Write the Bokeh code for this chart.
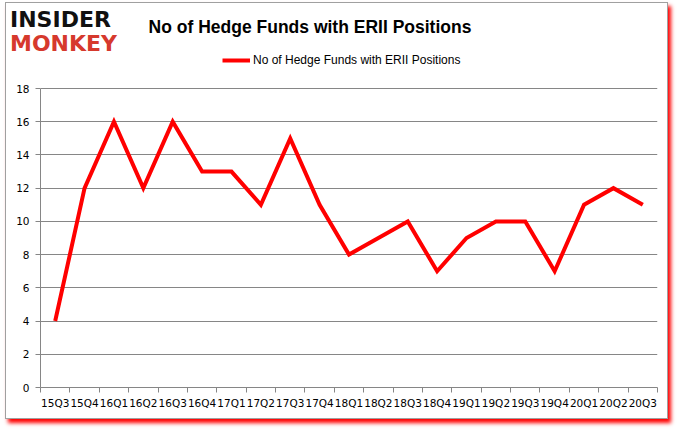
from bokeh.plotting import figure
from bokeh.layouts import column
from bokeh.models import FixedTicker, Legend, LegendItem, Range1d, Div
from bokeh.embed import file_html
from bokeh.resources import INLINE

quarters = ["15Q3", "15Q4", "16Q1", "16Q2", "16Q3", "16Q4", "17Q1", "17Q2",
            "17Q3", "17Q4", "18Q1", "18Q2", "18Q3", "18Q4", "19Q1", "19Q2",
            "19Q3", "19Q4", "20Q1", "20Q2", "20Q3"]
funds = [4, 12, 16, 12, 16, 13, 13, 11, 15, 11, 8, 9, 10, 7, 9, 10, 10, 7, 11, 12, 11]
y_ticks = [0, 2, 4, 6, 8, 10, 12, 14, 16, 18]
y_max = 18
title_text = "No of Hedge Funds with ERII Positions"
logo_top, logo_bottom = "INSIDER", "MONKEY"

W = 661
HH = 50            # header height
CH = 365           # chart figure height
FL, FR, FB = 34, 651, 334   # chart frame edges (pixels in chart figure)
PLOT_H = 299       # pixel height of the 0..18 span

# ---------------- header (logo + title) ----------------
header_html = (
    f'<div style="position:relative;width:{W}px;height:{HH}px;background:white;">'
    f'<div style="position:absolute;left:4px;top:6px;font:bold 22px/22px \'DejaVu Sans\';'
    f'color:#111111;white-space:nowrap;">{logo_top}</div>'
    f'<div style="position:absolute;left:4px;top:30px;font:bold 22px/22px \'DejaVu Sans\';'
    f'color:#d6392d;white-space:nowrap;">{logo_bottom}</div>'
    f'<div style="position:absolute;left:0px;width:608px;top:16px;text-align:center;'
    f'font:bold 17.5px/17.5px \'Liberation Sans\';color:#000000;white-space:nowrap;">'
    f'{title_text}</div>'
    '</div>'
)
hdr = Div(text=header_html, width=W, height=HH, margin=0)

# ---------------- chart ----------------
y_top = y_max * FB / PLOT_H
p = figure(width=W, height=CH, output_backend="svg", toolbar_location=None,
           min_border_left=FL, min_border_top=0,
           min_border_right=W - FR, min_border_bottom=CH - FB,
           x_range=Range1d(-0.5, len(quarters) - 0.5), y_range=Range1d(0, y_top))
p.outline_line_color = None
p.background_fill_color = "white"
p.border_fill_color = "white"

xs = list(range(len(quarters)))
r = p.line(xs, funds, line_color="#ff0000", line_width=4, line_join="miter")

grey = "#868686"
p.xaxis.ticker = FixedTicker(ticks=xs, minor_ticks=[i - 0.5 for i in range(len(quarters) + 1)])
p.xaxis.major_label_overrides = {i: q for i, q in enumerate(quarters)}
p.xaxis.major_tick_line_color = None
p.xaxis.minor_tick_line_color = grey
p.xaxis.minor_tick_in = 0
p.xaxis.minor_tick_out = 5
p.xaxis.axis_line_color = grey
p.xaxis.major_label_text_font = "DejaVu Sans"
p.xaxis.major_label_text_font_size = "10.5px"
p.xaxis.major_label_text_color = "#000000"
p.xaxis.major_label_standoff = 3
p.xgrid.grid_line_color = None

p.yaxis.ticker = FixedTicker(ticks=y_ticks)
p.yaxis.bounds = (0, y_max)
p.yaxis.major_tick_line_color = grey
p.yaxis.major_tick_in = 0
p.yaxis.major_tick_out = 5
p.yaxis.minor_tick_line_color = None
p.yaxis.axis_line_color = grey
p.yaxis.major_label_text_font = "DejaVu Sans"
p.yaxis.major_label_text_font_size = "10.5px"
p.yaxis.major_label_text_color = "#000000"
p.yaxis.major_label_standoff = 6
p.ygrid.grid_line_color = grey
p.ygrid.grid_line_width = 1

legend = Legend(items=[LegendItem(label=title_text, renderers=[r])],
                location=(182, 320), orientation="horizontal",
                label_text_font="Liberation Sans", label_text_font_size="12px",
                label_text_color="#000000", glyph_width=28, glyph_height=12,
                label_height=12, label_standoff=3, padding=0, margin=0,
                border_line_color=None, background_fill_alpha=0)
p.add_layout(legend, "center")

layout = column(hdr, p, spacing=0,
                styles={"border": "1px solid #a0a0a0",
                        "box-shadow": "3px 4px 4px #ff0000",
                        "margin-left": "5px", "margin-top": "2px",
                        "background-color": "white"})

open("out.html", "w").write(file_html(layout, INLINE))
